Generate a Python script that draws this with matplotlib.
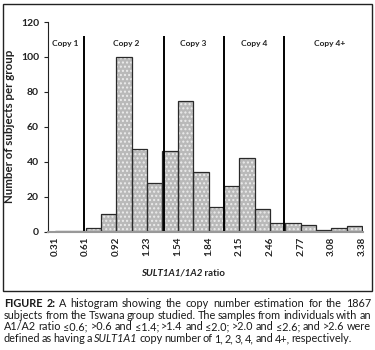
import matplotlib
matplotlib.use("Agg")
import matplotlib.pyplot as plt
from matplotlib.patches import Rectangle

plt.rcParams['font.family'] = ['Lato', 'DejaVu Sans']

# histogram data
bin_start = 0.31
bin_width = 0.1535
counts = [0.4, 0.4, 2, 10, 100, 47, 28, 46, 75, 34, 14, 26, 42, 13, 5, 5, 4, 1, 2, 3]
tick_labels = ['0.31', '0.61', '0.92', '1.23', '1.54', '1.84', '2.15', '2.46', '2.77', '3.08', '3.38']

# copy number cut-offs and labels
cutoffs = [0.6, 1.4, 2.0, 2.6]
copy_labels = ['Copy 1', 'Copy 2', 'Copy 3', 'Copy 4', 'Copy 4+']
copy_label_x = [0.41, 1.02, 1.69, 2.30, 3.06]

caption = [
    [("FIGURE", "bold"), ("2:", "bold"), ("A", ""), ("histogram", ""), ("showing", ""), ("the", ""),
     ("copy", ""), ("number", ""), ("estimation", ""), ("for", ""), ("the", ""), ("1867", "")],
    [(w, "") for w in "subjects from the Tswana group studied. The samples from individuals with an".split()],
    [(w, "") for w in "A1/A2 ratio ≤0.6; >0.6 and ≤1.4; >1.4 and ≤2.0; >2.0 and ≤2.6; and >2.6 were".split()],
    [(w, "italic" if w == "SULT1A1" else "") for w in
     "defined as having a SULT1A1 copy number of 1, 2, 3, 4, and 4+, respectively.".split()],
]

fig = plt.figure(figsize=(3.75, 3.5), dpi=100)
W, H = 375, 350

# frame around the chart
fig.add_artist(Rectangle((3 / W, 1 - 291 / H), 369 / W, 287 / H, transform=fig.transFigure,
                         fill=False, edgecolor='#222222', lw=1.0))

ax = fig.add_axes([48 / W, 1 - 231.5 / H, 315 / W, 209.5 / H])
lefts = [bin_start + i * bin_width for i in range(len(counts))]
ax.bar(lefts, counts, width=bin_width, align='edge', facecolor='#b9b9b9',
       edgecolor='#ececec', hatch='....', lw=0)
ax.bar(lefts, counts, width=bin_width, align='edge', fill=False,
       edgecolor='#2a2a2a', lw=0.9)

for c in cutoffs:
    ax.plot([c, c], [0, 112], color='black', lw=1.4, solid_capstyle='butt')
for x, lab in zip(copy_label_x, copy_labels):
    ax.text(x, 107.5, lab, ha='center', va='center', fontsize=6, fontweight='bold', color='#222222')

ax.set_xlim(0.24, 3.39)
ax.set_ylim(0, 120)
ax.set_yticks(range(0, 121, 20))
ax.set_xticks([bin_start + 2 * i * bin_width for i in range(len(tick_labels))])
ax.set_xticklabels(tick_labels, rotation=90, fontsize=7, fontweight='bold', color='#222222')
ax.tick_params(axis='y', labelsize=7.5, length=3, width=0.8, colors='#222222')
for t in ax.get_yticklabels():
    t.set_fontweight('bold')
ax.tick_params(axis='x', length=0, pad=4)
ax.spines['top'].set_visible(False)
ax.spines['right'].set_visible(False)
ax.spines['left'].set_color('#222222')
ax.spines['bottom'].set_color('#999999')
ax.spines['bottom'].set_linewidth(1.5)
ax.set_ylabel('Number of subjects per group', fontsize=8.3, fontweight='bold', labelpad=4, color='#222222')

fig.text(202 / W, 1 - 273 / H, 'SULT1A1/1A2', ha='right', va='center', fontsize=7,
         fontweight='bold', style='italic', color='#222222')
fig.text(202 / W, 1 - 273 / H, ' ratio', ha='left', va='center', fontsize=7,
         fontweight='bold', color='#222222')

# justified caption (last line ends short, as in the original)
renderer = fig.canvas.get_renderer()
x0 = 4
line_right = [371, 371, 371, 352]
line_base = [307, 319, 330.5, 342]
cap_size = 7.8
for line, y, x1 in zip(caption, line_base, line_right):
    texts = []
    for word, style in line:
        t = fig.text(0, 1 - y / H, word, ha='left', va='baseline', fontsize=cap_size, color='#1a1a1a',
                     fontweight='bold' if style == 'bold' else 'normal',
                     style='italic' if style == 'italic' else 'normal')
        texts.append(t)
    widths = [t.get_window_extent(renderer).width for t in texts]
    gap = (x1 - x0 - sum(widths)) / (len(texts) - 1)
    x = x0
    for t, w in zip(texts, widths):
        t.set_x(x / W)
        x += w + gap

fig.savefig('out.png', dpi=100)
